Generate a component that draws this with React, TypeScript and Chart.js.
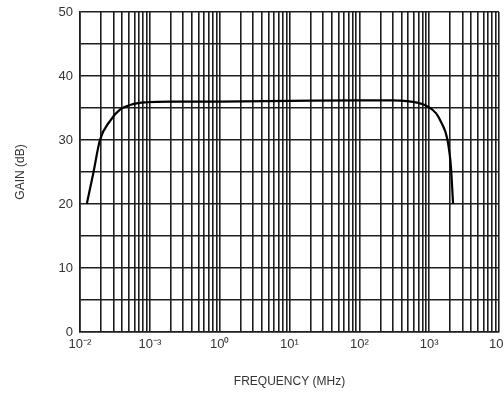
import React, { useEffect, useRef } from "react";
import { Chart, registerables } from "chart.js";

Chart.register(...registerables);

// Frequency (MHz) and gain (dB)
const frequencies = [0.0125, 0.0155, 0.0193, 0.027, 0.037, 0.057, 0.089, 0.2, 1, 10, 100, 300, 700, 1000, 1250, 1450, 1830, 2050, 2200];
const gains = [20, 24.8, 30, 33, 34.7, 35.6, 35.9, 36.0, 36.0, 36.1, 36.2, 36.2, 35.8, 35.1, 34.2, 33, 30, 25.8, 20];

// Decade tick labels, exactly as printed on the reference
const decadeLabels = ["10⁻²", "10⁻³", "10⁰", "10¹", "10²", "10³", "10⁴"];
const yTickLabels = ["0", "10", "20", "30", "40", "50"];

const X_MIN = 0.01;
const X_MAX = 10000;
const Y_MIN = 0;
const Y_MAX = 50;

const FONT = "'Liberation Sans', Arial, Helvetica, sans-serif";
const GRID = "#1e1e1e";

export default function App() {
  const ref = useRef<HTMLCanvasElement | null>(null);

  useEffect(() => {
    document.body.style.margin = "0";
    const canvas = ref.current;
    if (!canvas) return;
    const chart = new Chart(canvas, {
      type: "line",
      data: {
        datasets: [
          {
            data: frequencies.map((f, i) => ({ x: f, y: gains[i] })),
            borderColor: "#000",
            borderWidth: 2.2,
            pointRadius: 0,
            fill: false,
            cubicInterpolationMode: "monotone",
          },
        ],
      },
      options: {
        animation: false,
        responsive: false,
        maintainAspectRatio: false,
        layout: { padding: { left: 0, right: 5, top: 12, bottom: 0 } },
        plugins: { legend: { display: false }, tooltip: { enabled: false } },
        scales: {
          x: {
            type: "logarithmic",
            min: X_MIN,
            max: X_MAX,
            afterBuildTicks: (scale: any) => {
              const t: any[] = [];
              for (let e = -2; e <= 3; e++) {
                for (let s = 1; s <= 9; s++) t.push({ value: s * Math.pow(10, e), major: s === 1 });
              }
              t.push({ value: X_MAX, major: true });
              scale.ticks = t;
            },
            afterFit: (scale: any) => {
              scale.height = 62;
              scale.paddingLeft = 0;
              scale.paddingRight = 0;
            },
            grid: { color: GRID, lineWidth: 1.6, drawTicks: false },
            border: { color: GRID, width: 1.6 },
            ticks: {
              autoSkip: false,
              maxRotation: 0,
              padding: 5,
              color: "#333",
              font: { family: FONT, size: 13 },
              callback: (v: any) => {
                const e = Math.log10(Number(v));
                const r = Math.round(e);
                if (Math.abs(e - r) < 1e-6) return decadeLabels[r + 2];
                return "";
              },
            },
            title: {
              display: true,
              text: "FREQUENCY (MHz)",
              color: "#333",
              font: { family: FONT, size: 12 },
              padding: { top: 0, bottom: 5 },
            },
          },
          y: {
            min: Y_MIN,
            max: Y_MAX,
            afterFit: (scale: any) => {
              scale.width = 80;
              scale.paddingTop = 0;
              scale.paddingBottom = 0;
            },
            grid: { color: GRID, lineWidth: 1.6, drawTicks: false },
            border: { color: GRID, width: 1.6 },
            ticks: {
              stepSize: 5,
              padding: 7,
              color: "#333",
              font: { family: FONT, size: 13 },
              callback: (v: any) => {
                const n = Number(v);
                return n % 10 === 0 ? yTickLabels[n / 10] : "";
              },
            },
            title: {
              display: true,
              text: "GAIN (dB)",
              color: "#333",
              font: { family: FONT, size: 12 },
              padding: { top: 13, bottom: 0 },
            },
          },
        },
      },
    });
    return () => chart.destroy();
  }, []);

  return (
    <div style={{ position: "fixed", left: 0, top: 0, width: 504, height: 394, background: "#fff" }}>
      <canvas ref={ref} width={504} height={394} style={{ width: 504, height: 394 }} />
    </div>
  );
}
